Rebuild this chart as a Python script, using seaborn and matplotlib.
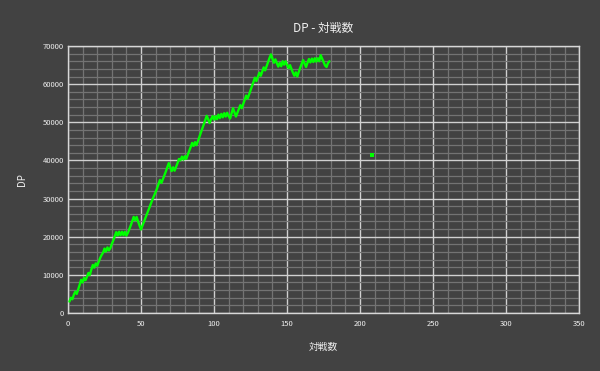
import matplotlib
matplotlib.use("Agg")
import matplotlib.pyplot as plt
import seaborn as sns
import pandas as pd
from matplotlib.ticker import MultipleLocator

dp_values = [
    3000, 4000, 3600, 4800, 5600, 5000, 6200, 7400, 8700, 8000,
    9200, 8600, 9500, 10500, 10000, 11400, 12600, 11900, 13000, 12400,
    13400, 14400, 15200, 15800, 16900, 16100, 17200, 16400, 17000, 18100,
    19000, 20100, 21200, 20300, 21300, 20400, 21300, 20400, 21300, 20300,
    21000, 22000, 23000, 24100, 25200, 24300, 25200, 24000, 22900, 21900,
    22900, 23900, 24900, 25900, 26900, 27900, 28900, 29900, 30800, 31700,
    32700, 33800, 34900, 34100, 35100, 36100, 37100, 38200, 39300, 38200,
    37200, 38200, 37300, 38300, 39300, 40400, 40000, 41000, 40200, 41100,
    40400, 41500, 42500, 43500, 44600, 43800, 44800, 44000, 45100, 46200,
    47300, 48400, 49500, 50600, 51700, 50800, 49800, 50800, 51600, 50700,
    51600, 50800, 52000, 51100, 52200, 51300, 52400, 51500, 52500, 51600,
    51000, 52300, 53700, 52600, 51500, 52500, 53500, 54500, 53700, 54800,
    55900, 57000, 56200, 57300, 58400, 59500, 60600, 61700, 60800, 61900,
    63000, 62200, 63300, 64400, 63600, 64700, 65800, 66900, 67800, 66700,
    65600, 66500, 65500, 64600, 65600, 64700, 66000, 65100, 66000, 65000,
    64200, 65000, 64000, 63000, 62200, 63100, 62000, 63200, 64300, 65300,
    66300, 65400, 64500, 65600, 66600, 65700, 66700, 65800, 66800, 65900,
    66800, 66000, 67600, 66700, 65800, 64900, 64500, 65500, 66000,
]
games = list(range(1, len(dp_values) + 1))
extra_game = [208]
extra_dp = [41400]

title = "DP - 対戦数"
x_label = "対戦数"
y_label = "DP"

bg = "#424242"
sns.set_theme(style="dark")
plt.rcParams["font.family"] = ["Noto Sans CJK JP", "DejaVu Sans"]

fig = plt.figure(figsize=(6, 3.71), dpi=100, facecolor=bg)
ax = fig.add_axes([0.1133, 0.1563, 0.852, 0.7197])
ax.set_facecolor(bg)

df = pd.DataFrame({"game": games, "dp": dp_values})
sns.lineplot(data=df, x="game", y="dp", ax=ax, color="#00ff00", linewidth=1.7, zorder=5)
sns.scatterplot(x=extra_game, y=extra_dp, ax=ax, color="#00ff00", marker="s", s=10,
                edgecolor="none", zorder=5)

ax.set_xlim(0, 350)
ax.set_ylim(0, 70000)
ax.xaxis.set_major_locator(MultipleLocator(50))
ax.xaxis.set_minor_locator(MultipleLocator(10))
ax.yaxis.set_major_locator(MultipleLocator(10000))
ax.yaxis.set_minor_locator(MultipleLocator(2000))
ax.grid(which="major", color="#d0d0d0", linewidth=1.0)
ax.grid(which="minor", color="#737373", linewidth=0.9)
ax.set_axisbelow(True)
for s in ax.spines.values():
    s.set_visible(True)
    s.set_color("#d8d8d8")
    s.set_linewidth(1.0)

ax.tick_params(axis="both", which="both", length=0, colors="#f0f0f0", labelsize=5.5)
ax.tick_params(axis="x", pad=5)
ax.tick_params(axis="y", pad=3)

ax.set_xlabel(x_label, color="#f0f0f0", fontsize=7, labelpad=10)
ax.set_ylabel(y_label, color="#f0f0f0", fontsize=7, labelpad=11)
ax.set_title(title, color="#f0f0f0", fontsize=8.5, pad=10)

fig.savefig("out.png", dpi=100, facecolor=bg)
